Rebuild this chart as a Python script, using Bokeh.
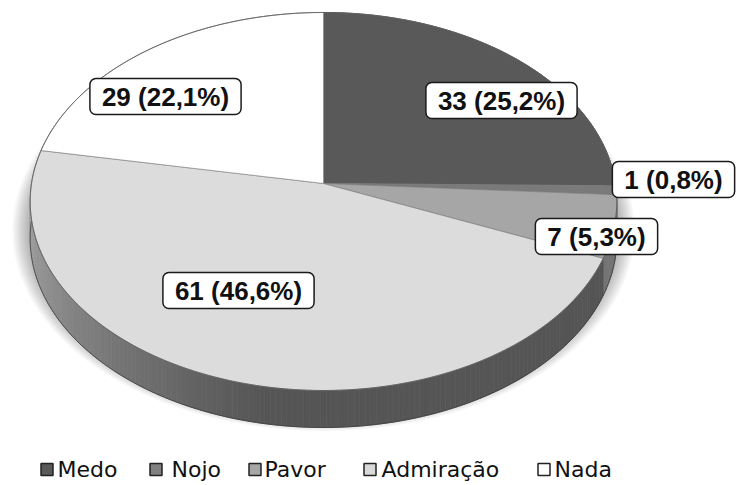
import numpy as np
from bokeh.plotting import figure
from bokeh.models import Range1d, Label, ColumnDataSource
from bokeh.embed import file_html
from bokeh.resources import INLINE
from bokeh.core.properties import value

# ---- data ----
categories = ["Medo", "Nojo", "Pavor", "Admiração", "Nada"]
counts = [33, 1, 7, 61, 29]
percents = ["25,2%", "0,8%", "5,3%", "46,6%", "22,1%"]

# ---- style ----
top_colors = ["#595959", "#7a7a7a", "#a6a6a6", "#dcdcdc", "#ffffff"]
legend_colors = ["#595959", "#808080", "#a6a6a6", "#d9d9d9", "#ffffff"]
side_gray = [0x3c, 0x5a, 0x74, 0x55, 0xb0]
label_pos = [(501, 100), (673, 179), (596, 236), (238, 290), (165, 96)]
legend_sq_x = [40, 149, 248, 363, 537]
legend_text_x = [57, 171, 264, 381, 554]
legend_y = 469

# geometry of the tilted pie (perspective projection of a circle)
CX, CY = 323.0, 183.0
A, B, K = 292.0, 187.3, 0.0952
D = 37.0


def proj(theta_deg):
    t = np.radians(theta_deg)
    u, v = np.sin(t), np.cos(t)
    w = 1.0 + K * v
    return CX + A * u / w, CY - B * v / w


W, H = 747, 485
p = figure(width=W, height=H, output_backend="svg", toolbar_location=None,
           x_range=Range1d(0, W), y_range=Range1d(H, 0),
           x_axis_type=None, y_axis_type=None, min_border=0)
p.outline_line_color = None
p.grid.visible = False

total = float(sum(counts))
ends = np.cumsum(counts) / total * 360.0
starts = np.concatenate([[0.0], ends[:-1]])

# ---- soft shadow ----
full = np.linspace(0, 360, 361)
ex, ey = proj(full)
sh_xs, sh_ys = [], []
for s in np.linspace(1.0, 1.06, 10):
    sh_xs.append(list(CX + s * (ex - CX)))
    sh_ys.append(list(CY + s * (ey - CY) + 28))
p.patches(sh_xs[::-1], sh_ys[::-1], fill_color="black", fill_alpha=0.035, line_color=None)

# ---- side wall ----
side_xs, side_ys, side_cols = [], [], []
for i in range(len(counts)):
    a0, a1 = starts[i], ends[i]
    n = max(2, int(np.ceil((a1 - a0) / 1.0)))
    th = np.linspace(a0, a1, n + 1)
    for j in range(n):
        t0, t1 = th[j], th[j + 1]
        x0, y0 = proj(t0)
        x1, y1 = proj(t1)
        g = side_gray[i]
        tm = 0.5 * (t0 + t1)
        if categories[i] == "Admiração" and tm > 190:
            g = int(0x55 + (min(tm, 268) - 190) / 78.0 * (0xa8 - 0x55))
        col = "#%02x%02x%02x" % (g, g, g)
        side_xs.append([x0, x1, x1, x0])
        side_ys.append([y0, y1, y1 + D, y0 + D])
        side_cols.append(col)
p.patches(side_xs, side_ys, fill_color=side_cols, line_color=side_cols, line_width=0.6)
bx, by = proj(np.linspace(90, 270, 181))
p.line(bx, by + D, line_color="#3a3a3a", line_width=0.8)

# ---- top face ----
wx, wy = [], []
for i in range(len(counts)):
    th = np.linspace(starts[i], ends[i], max(3, int((ends[i] - starts[i]) * 2)))
    xs, ys = proj(th)
    wx.append([CX] + list(xs))
    wy.append([CY] + list(ys))
src = ColumnDataSource(dict(xs=wx, ys=wy, color=top_colors, name=categories))
p.patches("xs", "ys", source=src, fill_color="color", line_color="#7a7a7a", line_width=0.6)
p.line(ex, ey, line_color="#5a5a5a", line_width=0.8)

# ---- data labels ----
for i in range(len(counts)):
    txt = "%d (%s)" % (counts[i], percents[i])
    lx, ly = label_pos[i]
    p.add_layout(Label(x=lx, y=ly, x_offset=3, y_offset=-3, text=txt, text_alpha=0.0,
                       text_font="Liberation Sans", text_font_style="bold",
                       text_font_size="26px", text_align="center", text_baseline="middle",
                       background_fill_color="#000000", background_fill_alpha=0.25,
                       border_line_color=None, padding=(12, 3), border_radius=6))
    p.add_layout(Label(x=lx, y=ly, text=txt, text_color="#111111",
                       text_font="Liberation Sans", text_font_style="bold",
                       text_font_size="26px", text_align="center", text_baseline="middle",
                       background_fill_color="#ffffff", border_line_color="#1a1a1a",
                       border_line_width=1.5, padding=(12, 3), border_radius=6))

# ---- legend ----
p.rect(x=[x + 6.5 for x in legend_sq_x], y=[legend_y] * len(categories), width=12, height=12,
       fill_color=legend_colors, line_color="#222222", line_width=1.5)
p.text(x=legend_text_x, y=[legend_y] * len(categories), text=categories,
       text_font=value("DejaVu Sans"), text_font_size=value("22px"), text_color="#111111",
       text_align="left", text_baseline="middle")

open("out.html", "w").write(file_html(p, INLINE))
